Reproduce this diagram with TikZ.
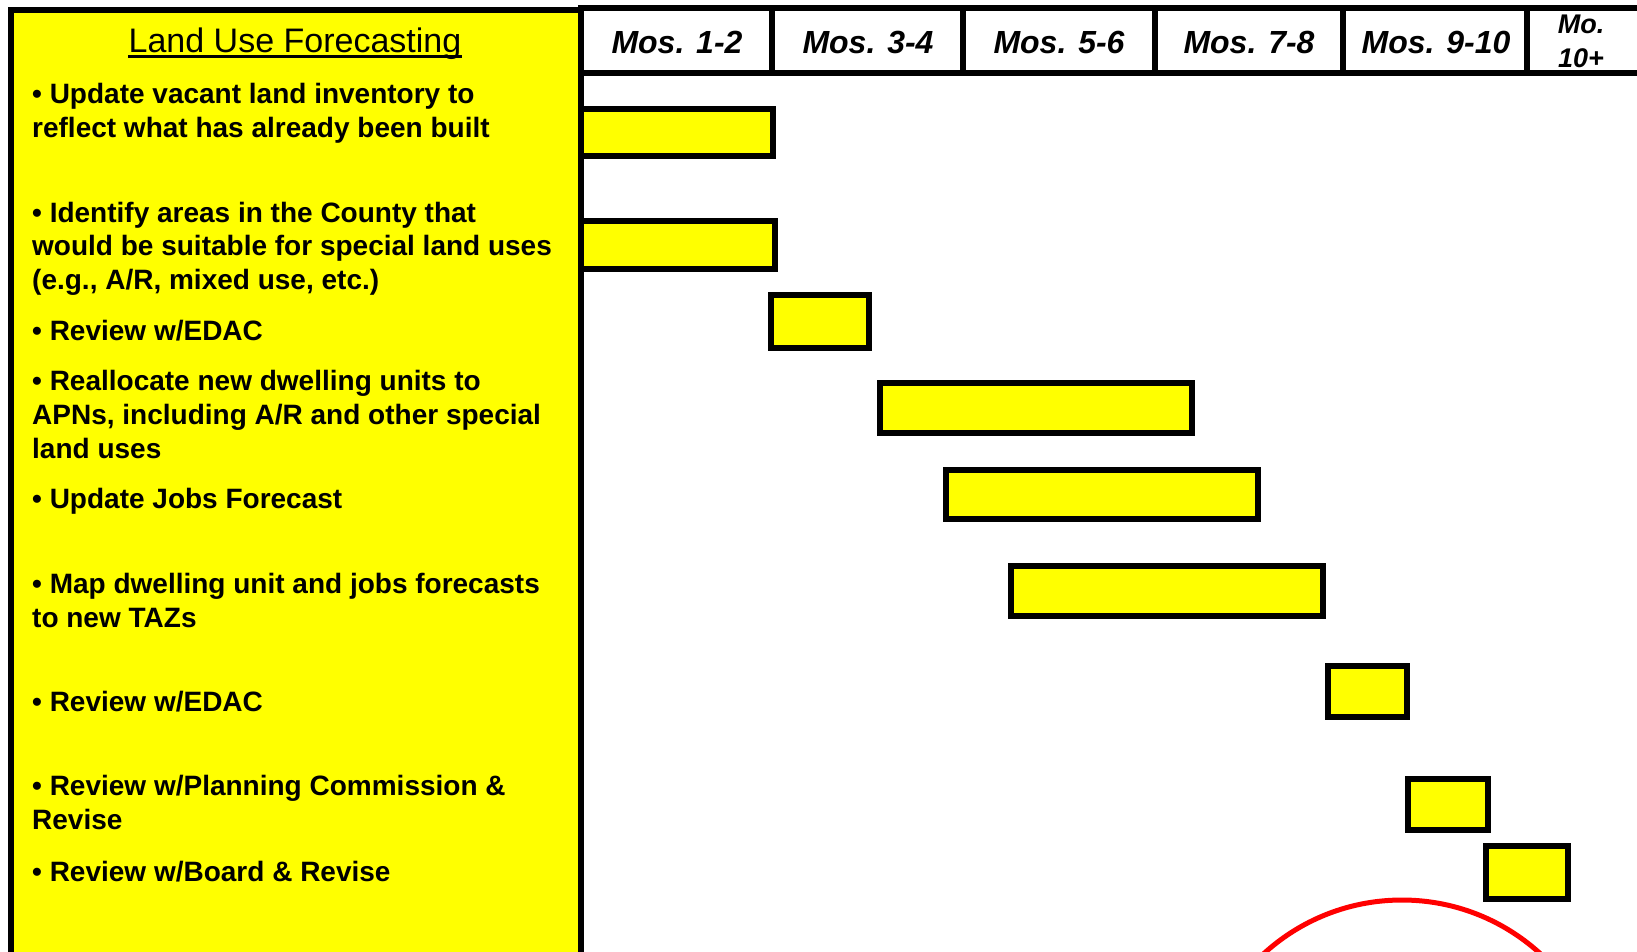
\documentclass[tikz,border=0pt]{standalone}
\usepackage{fontspec}
\setmainfont{Liberation Sans}
\definecolor{taskyellow}{RGB}{255,255,0}
\begin{document}
\begin{tikzpicture}[x=1pt,y=-1pt,
  frame/.style={draw=black,line width=6pt},
  panel/.style={fill=taskyellow,draw=black,line width=6pt},
  bar/.style={fill=taskyellow,draw=black,line width=6pt},
  itemtext/.style={anchor=base west,inner sep=0pt,font=\fontsize{28}{33}\selectfont\bfseries},
  month/.style={anchor=base,inner sep=0pt,font=\fontsize{32}{38}\selectfont\bfseries\itshape},
  monthsmall/.style={anchor=base,inner sep=0pt,font=\fontsize{27}{32}\selectfont\bfseries\itshape},
  heading/.style={anchor=base,inner sep=0pt,font=\fontsize{34}{40}\selectfont}]
\useasboundingbox (0,0) rectangle (1637,951);
\clip (0,0) rectangle (1637,951);
\fill[white] (0,0) rectangle (1637,951);

% task list panel
\draw[panel] (11,10) rectangle (581,1010);

% month header
\draw[frame] (581,8) rectangle (1680,73);
\foreach \x in {772,963,1155,1343,1527}
  \draw[frame] (\x,8) -- (\x,73);

\node[month] (m1) at (677,53) {Mos. 1-2};
\node[month] (m2) at (868,53) {Mos. 3-4};
\node[month] (m3) at (1059,53) {Mos. 5-6};
\node[month] (m4) at (1249,53) {Mos. 7-8};
\node[month] (m5) at (1436,53) {Mos. 9-10};
\node[monthsmall] (m6a) at (1581,33) {Mo.};
\node[monthsmall] (m6b) at (1581,67) {10+};

% heading
\node[heading] (title) at (295,52) {Land Use Forecasting};
\draw[line width=2.5pt] ([yshift=-4.5pt]title.base west) -- ([yshift=-4.5pt]title.base east);

% task descriptions
\node[itemtext] (t1a) at (32,103) {• Update vacant land inventory to};
\node[itemtext] (t1b) at (32,137) {reflect what has already been built};
\node[itemtext] (t2a) at (32,222) {• Identify areas in the County that};
\node[itemtext] (t2b) at (32,255) {would be suitable for special land uses};
\node[itemtext] (t2c) at (32,289) {(e.g., A/R, mixed use, etc.)};
\node[itemtext] (t3a) at (32,340) {• Review w/EDAC};
\node[itemtext] (t4a) at (32,390) {• Reallocate new dwelling units to};
\node[itemtext] (t4b) at (32,424) {APNs, including A/R and other special};
\node[itemtext] (t4c) at (32,458) {land uses};
\node[itemtext] (t5a) at (32,508) {• Update Jobs Forecast};
\node[itemtext] (t6a) at (32,593) {• Map dwelling unit and jobs forecasts};
\node[itemtext] (t6b) at (32,627) {to new TAZs};
\node[itemtext] (t7a) at (32,711) {• Review w/EDAC};
\node[itemtext] (t8a) at (32,795) {• Review w/Planning Commission \&};
\node[itemtext] (t8b) at (32,829) {Revise};
\node[itemtext] (t9a) at (32,881) {• Review w/Board \& Revise};

% schedule bars
\draw[bar] (581,109) rectangle (773,156);
\draw[bar] (581,221) rectangle (775,269);
\draw[bar] (771,295) rectangle (869,348);
\draw[bar] (880,383) rectangle (1192,433);
\draw[bar] (946,470) rectangle (1258,519);
\draw[bar] (1011,566) rectangle (1323,616);
\draw[bar] (1328,666) rectangle (1407,717);
\draw[bar] (1408,779) rectangle (1488,830);
\draw[bar] (1486,846) rectangle (1568,899);

% highlight circle
\draw[red,line width=5pt] (1402,1105) circle[radius=205pt];
\end{tikzpicture}
\end{document}
